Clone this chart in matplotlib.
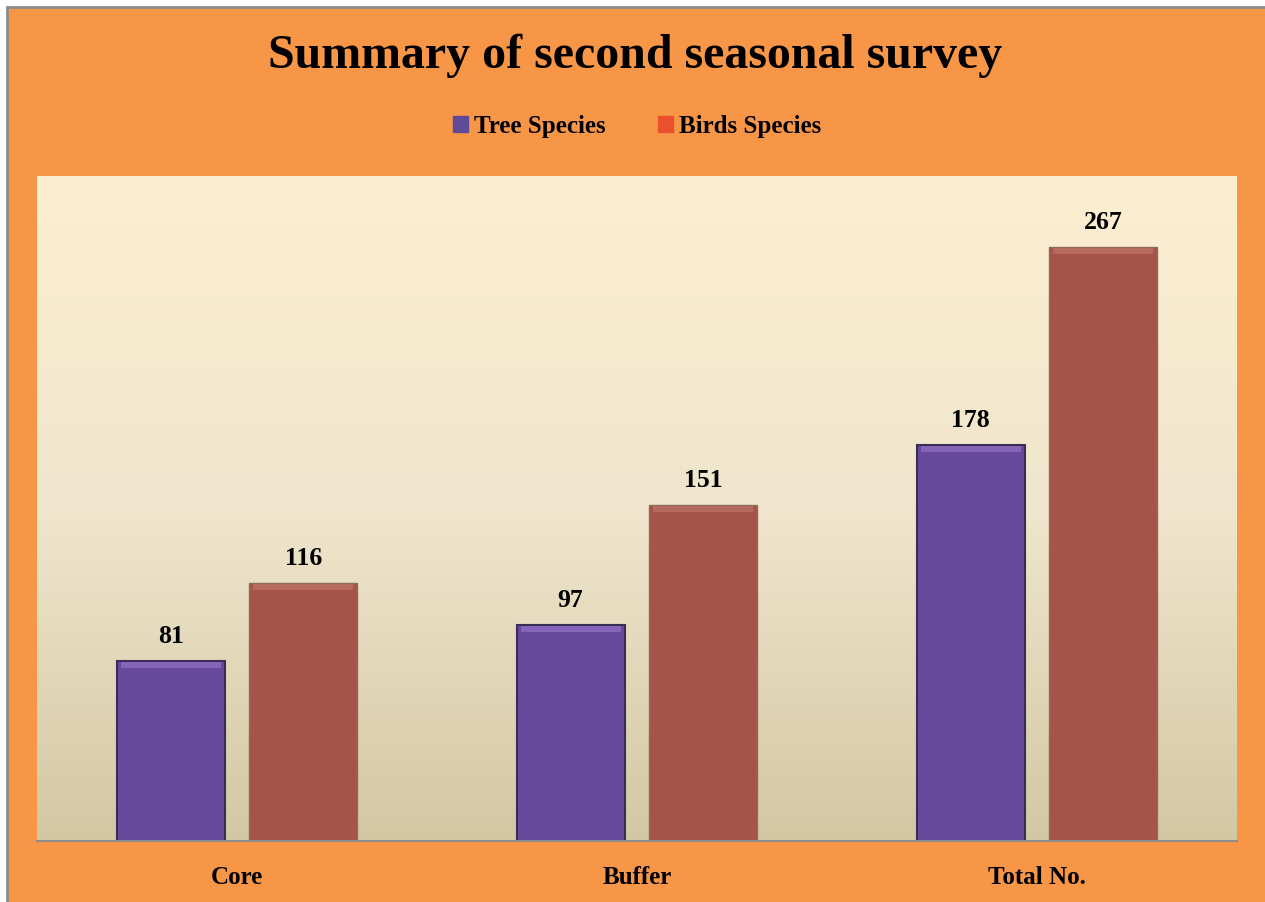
import matplotlib
matplotlib.use("Agg")
import matplotlib.pyplot as plt
import numpy as np
from matplotlib.patches import Rectangle, Patch
from matplotlib.colors import LinearSegmentedColormap

categories = ["Core", "Buffer", "Total No."]
tree_species = [81, 97, 178]
birds_species = [116, 151, 267]
series_names = ["Tree Species", "Birds Species"]

W, H = 1265, 902
fig = plt.figure(figsize=(W / 100, H / 100), dpi=100)
fig.patch.set_facecolor("white")

# orange chart area with gray border on left/top
fig.patches.append(Rectangle((7.5 / W, -0.01), 1.1, 1.01 - 6.5 / H, transform=fig.transFigure,
                             facecolor="#F79646", edgecolor="#8C8C8C", linewidth=2, zorder=-5))

ax = fig.add_axes([37 / W, 61 / H, 1200 / W, 665 / H])
ax.set_xlim(-0.5, 2.5)
ax.set_ylim(0, 299)

# gradient background
cmap = LinearSegmentedColormap.from_list("bg", ["#D4C7A4", "#EFE6CD", "#FDEED1"])
grad = np.linspace(0, 1, 256).reshape(-1, 1)
ax.imshow(grad, cmap=cmap, aspect="auto", extent=[-0.5, 2.5, 0, 299], origin="lower", zorder=0)

x = np.arange(len(categories))
bw = 0.27
off = 0.166
b1 = ax.bar(x - off, tree_species, bw, color="#684A9C", edgecolor="#3A2D55", linewidth=1.5, zorder=2)
b2 = ax.bar(x + off, birds_species, bw, color="#A6534A", edgecolor="#8E6A5E", linewidth=1.0, zorder=2)

# subtle top highlight
for bars, hc in ((b1, "#9A78CC"), (b2, "#BE7A6E")):
    for r in bars:
        ax.add_patch(Rectangle((r.get_x() + 0.01, r.get_height() - 3), r.get_width() - 0.02, 2.5,
                               facecolor=hc, edgecolor="none", alpha=0.6, zorder=3))

for bars, vals in ((b1, tree_species), (b2, birds_species)):
    for r, v in zip(bars, vals):
        ax.text(r.get_x() + r.get_width() / 2, v + 6, str(v), ha="center", va="bottom",
                fontsize=18.5, fontweight="bold", family="Liberation Serif", color="black")

ax.set_xticks(x)
ax.set_xticklabels(categories, fontsize=18, fontweight="bold", family="Liberation Serif")
ax.tick_params(axis="x", length=0, pad=18)
ax.set_yticks([])
for s in ("top", "left", "right"):
    ax.spines[s].set_visible(False)
ax.spines["bottom"].set_color("#8C8C8C")
ax.spines["bottom"].set_linewidth(1.5)

fig.text(635 / W, 1 - 56 / H, "Summary of second seasonal survey", ha="center", va="center",
         fontsize=34.5, fontweight="bold", family="Liberation Serif")

handles = [Patch(facecolor="#5E4A96", edgecolor="#5E4A96"), Patch(facecolor="#E8502E", edgecolor="#E8502E")]
leg = fig.legend(handles, series_names, loc="center", bbox_to_anchor=(637 / W, 1 - 126 / H), ncol=2,
                 frameon=False, prop={"family": "Liberation Serif", "weight": "bold", "size": 18},
                 handlelength=0.6, handleheight=0.6, handletextpad=0.25, columnspacing=2.1)

fig.savefig("out.png", dpi=100)
